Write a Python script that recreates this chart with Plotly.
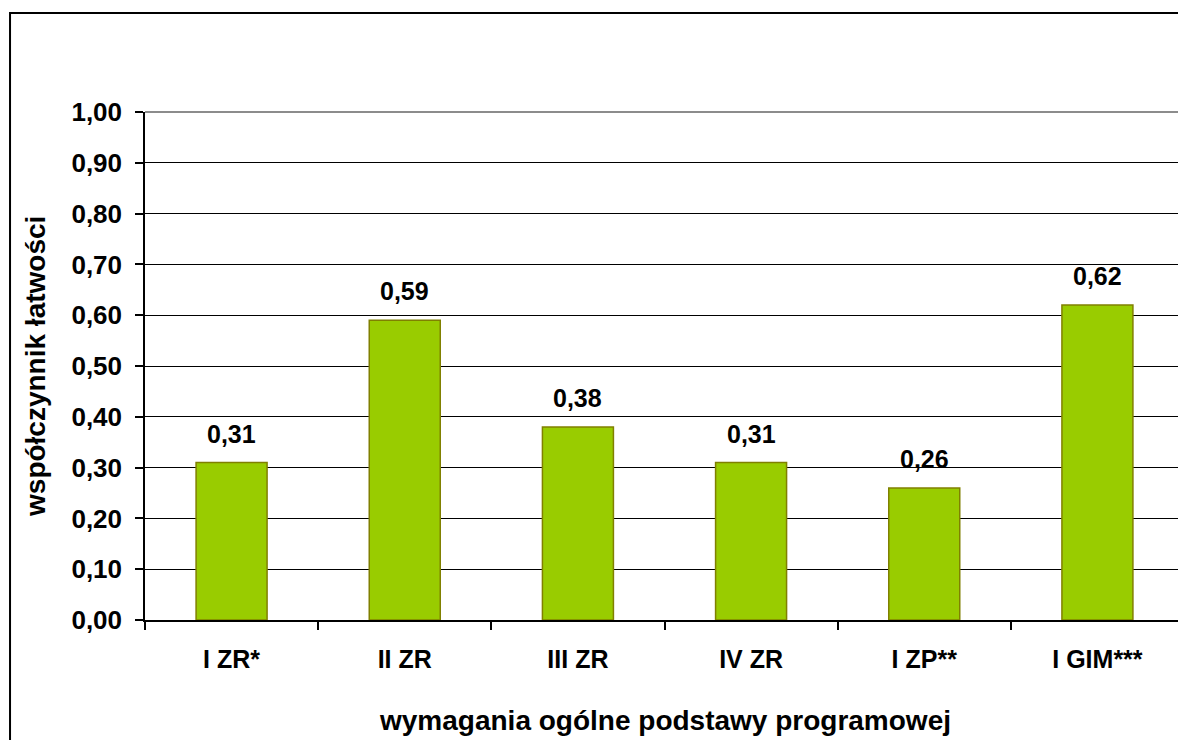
import plotly.graph_objects as go

categories = ["I ZR*", "II ZR", "III ZR", "IV ZR", "I ZP**", "I GIM***"]
values = [0.31, 0.59, 0.38, 0.31, 0.26, 0.62]
y_ticks = [0.0, 0.1, 0.2, 0.3, 0.4, 0.5, 0.6, 0.7, 0.8, 0.9, 1.0]
labels = [f"{v:.2f}".replace(".", ",") for v in values]

font_name = "Liberation Sans, Arial, sans-serif"

fig = go.Figure()
fig.add_trace(go.Bar(
    x=categories, y=values,
    marker=dict(color="#99CC00", line=dict(color="#808000", width=1.5)),
    width=0.41,
    hoverinfo="skip",
))

for c, v, t in zip(categories, values, labels):
    fig.add_annotation(x=c, y=v, text=f"<b>{t}</b>", showarrow=False,
                       yanchor="bottom", yshift=13,
                       font=dict(family=font_name, size=25, color="black"))

# page body has an 8px margin, so the figure is 8px smaller than the window
fig.update_layout(
    width=1178, height=732,
    margin=dict(l=137, r=2, t=104, b=120),
    paper_bgcolor="white", plot_bgcolor="white",
    separators=", ",
    showlegend=False,
    font=dict(family=font_name, size=22, color="black"),
)

fig.update_xaxes(
    type="category", tickson="boundaries",
    ticks="outside", ticklen=8, tickwidth=1.5, tickcolor="black",
    showline=True, linecolor="black", linewidth=1.5,
    showgrid=False,
    tickfont=dict(family=font_name, size=25, color="black", weight="bold"),
    ticklabelstandoff=16,
)
fig.update_yaxes(
    range=[0, 1.0], tickvals=y_ticks, tickformat=".2f",
    ticks="outside", ticklen=8, tickwidth=1.5, tickcolor="black",
    showline=True, linecolor="black", linewidth=1.5,
    showgrid=True, gridcolor="black", gridwidth=1.3,
    zeroline=False,
    tickfont=dict(family=font_name, size=26, color="black", weight="bold"),
    ticklabelstandoff=8,
)

# gray plot-area border on top and right
fig.add_shape(type="line", xref="paper", yref="paper", x0=0, x1=1, y0=1, y1=1,
              line=dict(color="#8C8C8C", width=2))
fig.add_shape(type="line", xref="paper", yref="paper", x0=1, x1=1, y0=0, y1=1,
              line=dict(color="#8C8C8C", width=2))
# outer chart border
fig.add_shape(type="rect", xref="paper", yref="paper",
              x0=-0.1299, x1=1.02, y0=1.195, y1=-0.4,
              line=dict(color="black", width=2), layer="below")

fig.add_annotation(xref="paper", yref="paper", x=0.5, y=-0.197, yanchor="middle",
                   text="<b>wymagania ogólne podstawy programowej</b>", showarrow=False,
                   font=dict(family=font_name, size=28, color="black"))
fig.add_annotation(xref="paper", yref="paper", x=-0.1059, y=0.5, xanchor="center",
                   text="<b>współczynnik łatwości</b>", showarrow=False, textangle=-90,
                   font=dict(family=font_name, size=28, color="black"))

fig.write_html("out.html")
